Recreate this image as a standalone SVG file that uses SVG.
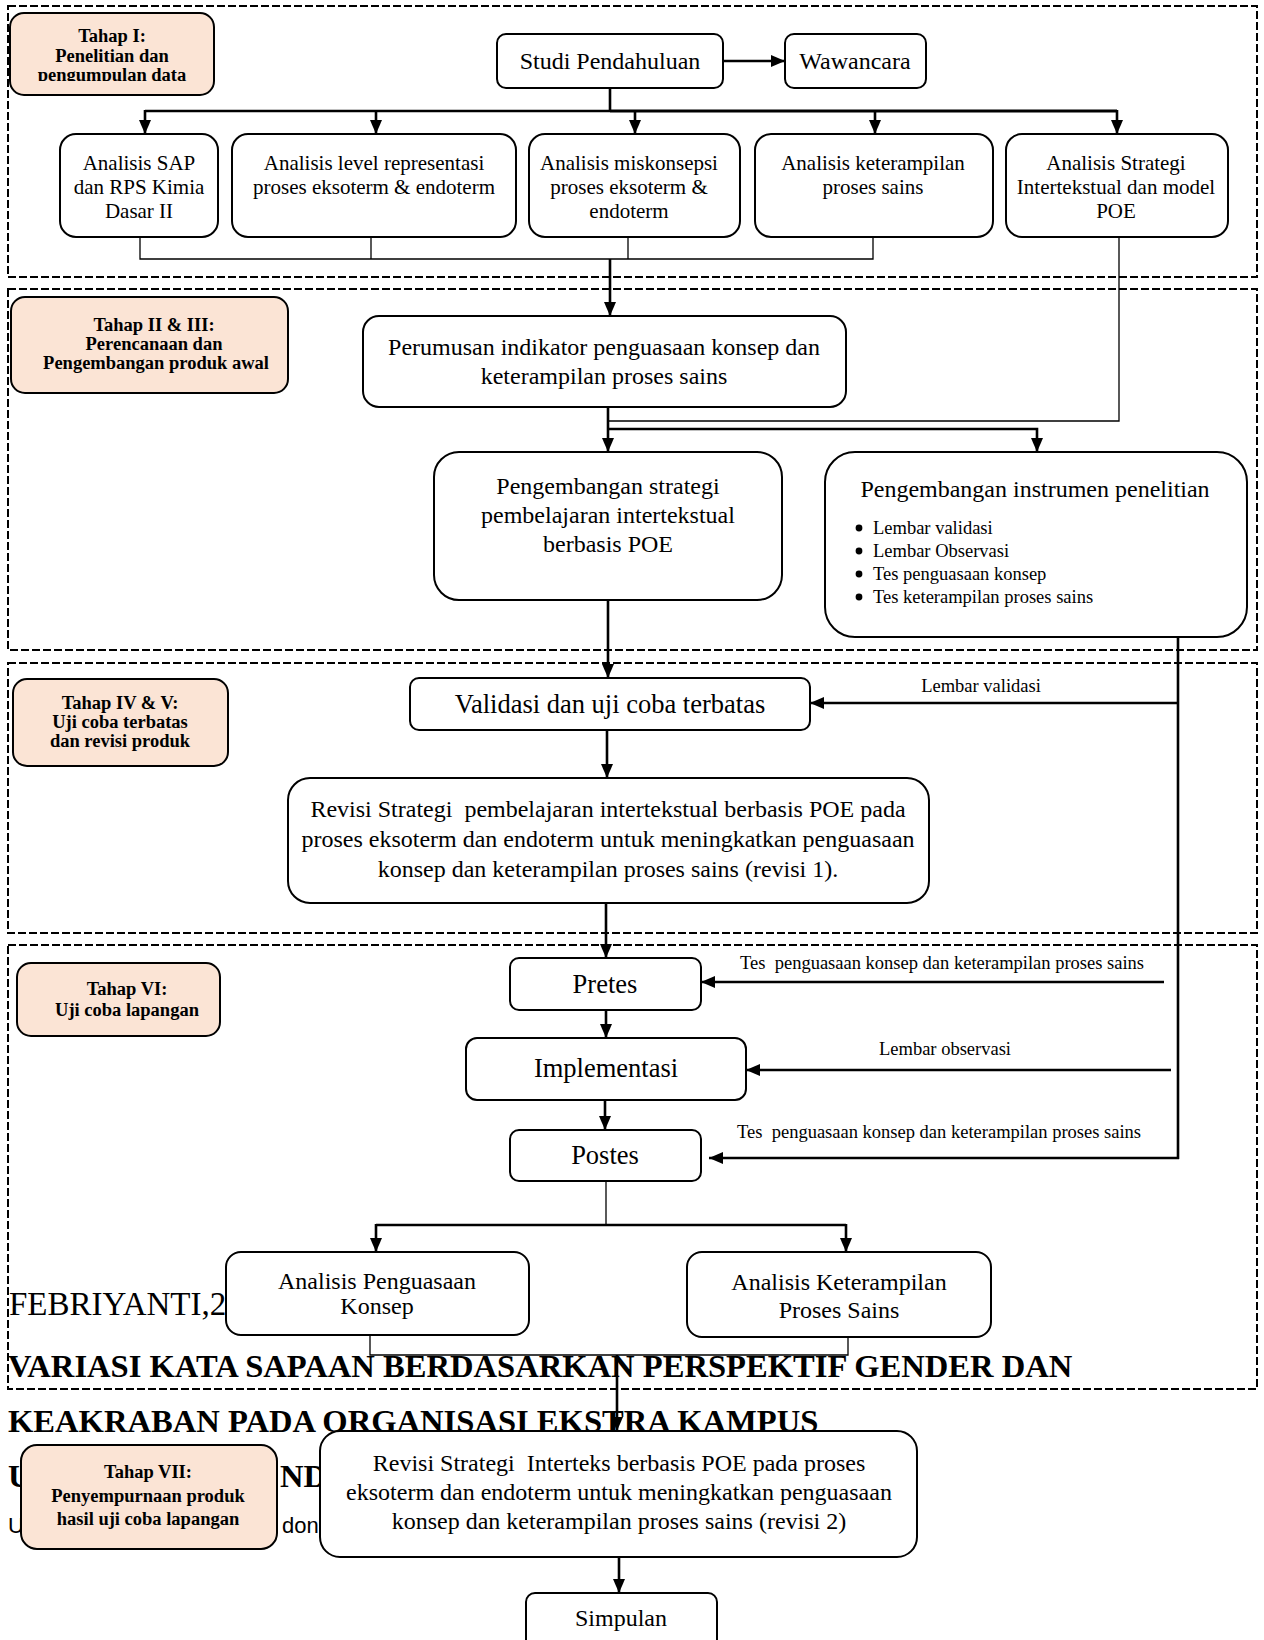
<svg xmlns="http://www.w3.org/2000/svg" width="1264" height="1640" viewBox="0 0 1264 1640">
<style>
  .sec { fill: none; stroke: #000; stroke-width: 2; stroke-dasharray: 8 3; }
  .box { fill: #fff; stroke: #000; stroke-width: 2; }
  .tah { fill: #FBE4D5; stroke: #000; stroke-width: 2; }
  .thk { fill: none; stroke: #000; stroke-width: 2.6; }
  .thn { fill: none; stroke: #000; stroke-width: 1.3; }
  .arr { marker-end: url(#ah); }
  .dot { fill: #000; }
  text { font-family: "Liberation Serif", "Times New Roman", serif; fill: #000; }
  .c { text-anchor: middle; }
  .f24 { font-size: 24px; }
  .f26 { font-size: 26.5px; }
  .f21 { font-size: 21px; }
  .lab { font-size: 18.5px; white-space: pre; }
  .tl { font-size: 18.5px; font-weight: bold; text-anchor: middle; }
  .big { font-size: 32.6px; font-weight: bold; }
  .sans { font-family: "Liberation Sans", Arial, sans-serif; font-size: 22px; }
  .pre { white-space: pre; }
</style>
<defs>
  <marker id="ah" viewBox="0 0 14 12" refX="14" refY="6" markerWidth="14" markerHeight="12" markerUnits="userSpaceOnUse" orient="auto">
    <path d="M0,0 L14,6 L0,12 z" fill="#000"/>
  </marker>
  <clipPath id="clip1"><rect x="10" y="13" width="204" height="68"/></clipPath>
</defs>

<g id="sections">
  <rect class="sec" x="8" y="6" width="1249" height="271"/>
  <rect class="sec" x="8" y="289" width="1249" height="361"/>
  <rect class="sec" x="8" y="663" width="1249" height="270"/>
  <rect class="sec" x="8" y="945" width="1249" height="444"/>
</g>

<g id="background-text">
  <text x="9" y="1315" style="font-size:33px">FEBRIYANTI,2</text>
  <text class="big" x="8" y="1377">VARIASI KATA SAPAAN BERDASARKAN PERSPEKTIF GENDER DAN</text>
  <text class="big" x="8" y="1432">KEAKRABAN PADA ORGANISASI EKSTRA KAMPUS</text>
  <text class="big" x="8" y="1487">U</text>
  <text class="big" x="280" y="1487">ND</text>
  <text class="sans" x="8" y="1533">U</text>
  <text class="sans" x="282" y="1533">don</text>
</g>

<g id="connectors">
  <line class="thk arr" x1="723" y1="61" x2="785" y2="61"/>
  <line class="thk" x1="610" y1="88" x2="610" y2="111"/>
  <line class="thk" x1="145" y1="111" x2="610" y2="111"/>
  <line class="thk" x1="610" y1="111" x2="1117" y2="111" style="stroke-width:3.2"/>
  <line class="thk arr" x1="145" y1="110" x2="145" y2="134"/>
  <line class="thk arr" x1="376" y1="110" x2="376" y2="134"/>
  <line class="thk arr" x1="635" y1="110" x2="635" y2="134"/>
  <line class="thk arr" x1="875" y1="110" x2="875" y2="134"/>
  <line class="thk arr" x1="1117" y1="110" x2="1117" y2="134"/>
  <polyline class="thn" points="140,237 140,259 873,259 873,237"/>
  <line class="thn" x1="371" y1="237" x2="371" y2="259"/>
  <line class="thn" x1="628" y1="237" x2="628" y2="259"/>
  <line class="thk arr" x1="610" y1="259" x2="610" y2="316"/>
  <polyline class="thn" points="1119,237 1119,421 609,421"/>
  <line class="thk arr" x1="608" y1="407" x2="608" y2="452"/>
  <polyline class="thk arr" points="608,429 1037,429 1037,452"/>
  <line class="thk arr" x1="608" y1="600" x2="608" y2="678"/>
  <line class="thk" x1="1178" y1="637" x2="1178" y2="1159"/>
  <line class="thk arr" x1="1178" y1="703" x2="810" y2="703"/>
  <line class="thk arr" x1="607" y1="730" x2="607" y2="778"/>
  <line class="thk arr" x1="606" y1="903" x2="606" y2="958"/>
  <line class="thk arr" x1="1164" y1="982" x2="701" y2="982"/>
  <line class="thk arr" x1="606" y1="1010" x2="606" y2="1038"/>
  <line class="thk arr" x1="1171" y1="1070" x2="746" y2="1070"/>
  <line class="thk arr" x1="605" y1="1100" x2="605" y2="1130"/>
  <line class="thk arr" x1="1179" y1="1158" x2="709" y2="1158"/>
  <line class="thn" x1="606" y1="1181" x2="606" y2="1225"/>
  <line class="thk" x1="376" y1="1225" x2="846" y2="1225"/>
  <line class="thk arr" x1="376" y1="1224" x2="376" y2="1252"/>
  <line class="thk arr" x1="846" y1="1224" x2="846" y2="1252"/>
  <polyline class="thn" points="370,1335 370,1355 848,1355 848,1337"/>
  <line class="thk arr" x1="617" y1="1355" x2="617" y2="1431"/>
  <line class="thk arr" x1="619" y1="1557" x2="619" y2="1593"/>
</g>

<g id="tahap1">
  <rect class="tah" x="10" y="13" width="204" height="82" rx="14"/>
  <text class="tl" x="112" y="42">Tahap I:</text>
  <text class="tl" x="112" y="62">Penelitian dan</text>
  <text class="tl" x="112" y="81" clip-path="url(#clip1)">pengumpulan data</text>
</g>
<g id="studi">
  <rect class="box" x="497" y="34" width="226" height="54" rx="9"/>
  <text class="c f24" x="610" y="69">Studi Pendahuluan</text>
</g>
<g id="wawancara">
  <rect class="box" x="785" y="34" width="141" height="54" rx="9"/>
  <text class="c f24" x="855" y="69">Wawancara</text>
</g>
<g id="analisis-sap">
  <rect class="box" x="60" y="134" width="158" height="103" rx="16"/>
  <text class="c f21" x="139" y="170">Analisis SAP</text>
  <text class="c f21" x="139" y="194">dan RPS Kimia</text>
  <text class="c f21" x="139" y="218">Dasar II</text>
</g>
<g id="analisis-level">
  <rect class="box" x="232" y="134" width="284" height="103" rx="16"/>
  <text class="c f21" x="374" y="170">Analisis level representasi</text>
  <text class="c f21" x="374" y="194">proses eksoterm &amp; endoterm</text>
</g>
<g id="analisis-miskonsepsi">
  <rect class="box" x="529" y="134" width="211" height="103" rx="16"/>
  <text class="c f21" x="629" y="170">Analisis miskonsepsi</text>
  <text class="c f21" x="629" y="194">proses eksoterm &amp;</text>
  <text class="c f21" x="629" y="218">endoterm</text>
</g>
<g id="analisis-kps">
  <rect class="box" x="755" y="134" width="238" height="103" rx="16"/>
  <text class="c f21" x="873" y="170">Analisis keterampilan</text>
  <text class="c f21" x="873" y="194">proses sains</text>
</g>
<g id="analisis-strategi">
  <rect class="box" x="1006" y="134" width="222" height="103" rx="16"/>
  <text class="c f21" x="1116" y="170">Analisis Strategi</text>
  <text class="c f21" x="1116" y="194">Intertekstual dan model</text>
  <text class="c f21" x="1116" y="218">POE</text>
</g>

<g id="tahap2">
  <rect class="tah" x="11" y="297" width="277" height="96" rx="14"/>
  <text class="tl" x="154" y="331">Tahap II &amp; III:</text>
  <text class="tl" x="154" y="350">Perencanaan dan</text>
  <text class="tl" x="156" y="369">Pengembangan produk awal</text>
</g>
<g id="perumusan">
  <rect class="box" x="363" y="316" width="483" height="91" rx="16"/>
  <text class="c f24" x="604" y="355">Perumusan indikator penguasaan konsep dan</text>
  <text class="c f24" x="604" y="384">keterampilan proses sains</text>
</g>
<g id="strategi">
  <rect class="box" x="434" y="452" width="348" height="148" rx="25"/>
  <text class="c f24" x="608" y="494">Pengembangan strategi</text>
  <text class="c f24" x="608" y="523">pembelajaran intertekstual</text>
  <text class="c f24" x="608" y="552">berbasis POE</text>
</g>
<g id="instrumen">
  <rect class="box" x="825" y="452" width="422" height="185" rx="30"/>
  <text class="c f24" x="1035" y="497">Pengembangan instrumen penelitian</text>
  <circle class="dot" cx="859" cy="528" r="3.4"/>
  <text class="lab" x="873" y="534">Lembar validasi</text>
  <circle class="dot" cx="859" cy="551" r="3.4"/>
  <text class="lab" x="873" y="557">Lembar Observasi</text>
  <circle class="dot" cx="859" cy="574" r="3.4"/>
  <text class="lab" x="873" y="580">Tes penguasaan konsep</text>
  <circle class="dot" cx="859" cy="597" r="3.4"/>
  <text class="lab" x="873" y="603">Tes keterampilan proses sains</text>
</g>

<g id="tahap45">
  <rect class="tah" x="13" y="679" width="215" height="87" rx="14"/>
  <text class="tl" x="120" y="709">Tahap IV &amp; V:</text>
  <text class="tl" x="120" y="728">Uji coba terbatas</text>
  <text class="tl" x="120" y="747">dan revisi produk</text>
</g>
<g id="validasi">
  <rect class="box" x="410" y="678" width="400" height="52" rx="9"/>
  <text class="c f26" x="610" y="713">Validasi dan uji coba terbatas</text>
  <text class="c lab" x="981" y="692">Lembar validasi</text>
</g>
<g id="revisi1">
  <rect class="box" x="288" y="778" width="641" height="125" rx="22"/>
  <text class="c f24 pre" x="608" y="817">Revisi Strategi  pembelajaran intertekstual berbasis POE pada</text>
  <text class="c f24" x="608" y="847">proses eksoterm dan endoterm untuk meningkatkan penguasaan</text>
  <text class="c f24" x="608" y="877">konsep dan keterampilan proses sains (revisi 1).</text>
</g>

<g id="tahap6">
  <rect class="tah" x="17" y="963" width="203" height="73" rx="14"/>
  <text class="tl" x="127" y="995">Tahap VI:</text>
  <text class="tl" x="127" y="1016">Uji coba lapangan</text>
</g>
<g id="pretes">
  <rect class="box" x="510" y="958" width="191" height="52" rx="9"/>
  <text class="c f26" x="605" y="993">Pretes</text>
  <text class="lab" x="740" y="969">Tes  penguasaan konsep dan keterampilan proses sains</text>
</g>
<g id="implementasi">
  <rect class="box" x="466" y="1038" width="280" height="62" rx="11"/>
  <text class="c f26" x="606" y="1077">Implementasi</text>
  <text class="c lab" x="945" y="1055">Lembar observasi</text>
</g>
<g id="postes">
  <rect class="box" x="510" y="1130" width="191" height="51" rx="9"/>
  <text class="c f26" x="605" y="1164">Postes</text>
  <text class="lab" x="737" y="1138">Tes  penguasaan konsep dan keterampilan proses sains</text>
</g>
<g id="analisis-penguasaan">
  <rect class="box" x="226" y="1252" width="303" height="83" rx="15"/>
  <text class="c f24" x="377" y="1289">Analisis Penguasaan</text>
  <text class="c f24" x="377" y="1314">Konsep</text>
</g>
<g id="analisis-keterampilan">
  <rect class="box" x="687" y="1252" width="304" height="85" rx="15"/>
  <text class="c f24" x="839" y="1290">Analisis Keterampilan</text>
  <text class="c f24" x="839" y="1318">Proses Sains</text>
</g>

<g id="tahap7">
  <rect class="tah" x="21" y="1445" width="256" height="104" rx="16"/>
  <text class="tl" x="148" y="1478">Tahap VII:</text>
  <text class="tl" x="148" y="1502">Penyempurnaan produk</text>
  <text class="tl" x="148" y="1525">hasil uji coba lapangan</text>
</g>
<g id="revisi2">
  <rect class="box" x="320" y="1431" width="597" height="126" rx="20"/>
  <text class="c f24 pre" x="619" y="1471">Revisi Strategi  Interteks berbasis POE pada proses</text>
  <text class="c f24" x="619" y="1500">eksoterm dan endoterm untuk meningkatkan penguasaan</text>
  <text class="c f24" x="619" y="1529">konsep dan keterampilan proses sains (revisi 2)</text>
</g>
<g id="simpulan">
  <rect class="box" x="526" y="1593" width="191" height="60" rx="9"/>
  <text class="c f24" x="621" y="1626">Simpulan</text>
</g>
</svg>
